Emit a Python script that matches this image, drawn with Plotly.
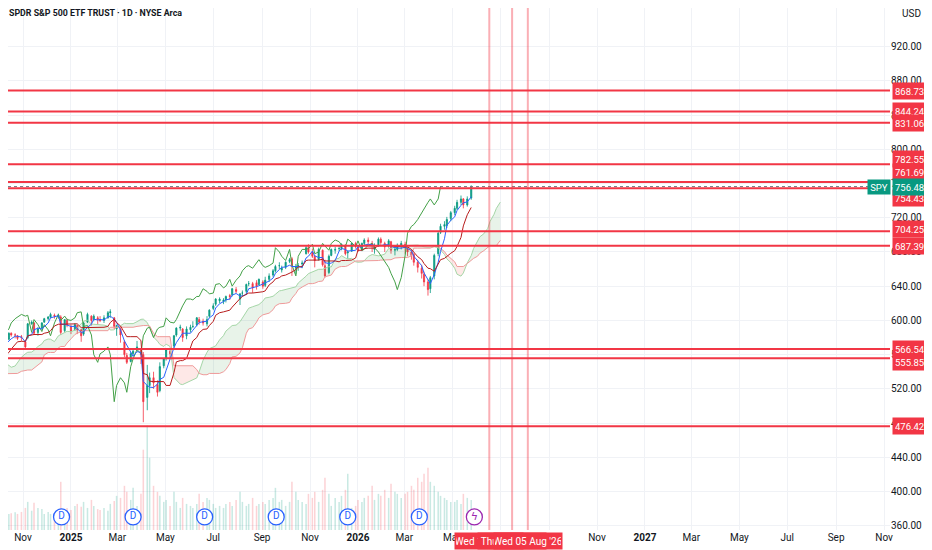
import numpy as np
import pandas as pd
import plotly.graph_objects as go

title_text = "SPDR S&P 500 ETF TRUST · 1D · NYSE Arca"

# SPY, one bar every 3 sessions, 13 Jun 2024 -> 25 May 2026
opens = [
    537, 543, 548, 545,                          # Jun 24
    544, 547, 554, 556, 562, 553, 553, 540,      # Jul 24
    552, 520, 519, 535, 553, 559, 562,           # Aug 24
    559, 563, 550, 549, 563, 565, 571,           # Sep 24
    573, 568, 572, 578, 585, 583, 582, 581,      # Oct 24
    575, 580, 596, 597, 586, 591, 598,           # Nov 24
    602, 604, 606, 605, 604, 588, 600,           # Dec 24
    593, 589, 594, 589, 584, 598, 605, 601,      # Jan 25
    603, 601, 600, 603, 609, 603, 590,           # Feb 25
    590, 575, 559, 552, 561, 566, 565,           # Mar 25
    560, 510, 524, 533, 525, 518, 547,           # Apr 25
    556, 564, 570, 583, 591, 590, 582,           # May 25
    589, 593, 595, 601, 599, 596, 605,           # Jun 25
    614, 619, 623, 622, 624, 629, 630, 636,      # Jul 25
    625, 632, 634, 643, 643, 644, 642,           # Aug 25
    645, 641, 648, 653, 658, 664, 659,           # Sep 25
    662, 669, 672, 661, 663, 666, 678, 685,      # Oct 25
    680, 675, 671, 682, 664, 656, 676,           # Nov 25
    682, 684, 684, 688, 679, 681, 690,           # Dec 25
    686, 683, 690, 694, 690, 683, 687, 695,      # Jan 26
    690, 687, 692, 682, 683, 688,                # Feb 26
    689, 684, 680, 677, 668, 661, 654, 645,      # Mar 26
    637, 652, 678, 703, 710, 711, 719,           # Apr 26
    726, 731, 738, 742, 735, 743,                # May 26
]
highs = [
    544, 549, 549, 547,
    548, 555, 558, 565, 564, 557, 554, 547,
    555, 523, 535, 555, 561, 564, 563,
    566, 565, 551, 563, 566, 571, 574,
    574, 574, 578, 586, 586, 585, 583, 583,
    576, 597, 600, 598, 592, 598, 603,
    605, 609, 608, 608, 606, 601, 602,
    595, 597, 595, 590, 598, 609, 606, 607,
    605, 605, 606, 611, 613, 604, 595,
    592, 577, 562, 563, 567, 576, 567,
    563, 548, 539, 540, 530, 551, 556,
    567, 566, 583, 592, 595, 591, 593,
    595, 599, 604, 604, 602, 605, 613,
    620, 626, 627, 626, 629, 631, 638, 639,
    632, 635, 643, 646, 645, 647, 649,
    647, 651, 655, 660, 665, 668, 664,
    669, 673, 674, 666, 667, 670, 688, 689,
    684, 676, 685, 683, 671, 677, 684,
    686, 687, 690, 689, 682, 691, 692,
    688, 691, 696, 697, 693, 690, 697, 697,
    692, 695, 693, 687, 690, 693,
    692, 686, 683, 679, 671, 665, 657, 648,
    652, 678, 704, 713, 716, 721, 728,
    734, 741, 746, 743, 745, 758,
]
lows = [
    536, 542, 543, 543,
    542, 546, 552, 555, 554, 550, 537, 536,
    530, 510, 517, 533, 551, 556, 554,
    557, 548, 539, 547, 557, 564, 569,
    565, 567, 571, 577, 581, 579, 577, 576,
    567, 578, 595, 583, 582, 589, 597,
    600, 603, 602, 602, 583, 586, 592,
    584, 588, 584, 575, 582, 597, 594, 599,
    595, 598, 597, 602, 603, 590, 582,
    574, 557, 549, 551, 558, 564, 549,
    481, 495, 515, 520, 511, 516, 544,
    553, 556, 567, 581, 588, 575, 578,
    586, 591, 593, 595, 594, 593, 603,
    612, 617, 620, 619, 621, 624, 628, 632,
    618, 628, 630, 640, 632, 636, 641,
    637, 639, 645, 651, 656, 660, 656,
    660, 667, 652, 654, 658, 661, 677, 678,
    673, 662, 670, 663, 650, 654, 675,
    678, 681, 682, 676, 672, 680, 684,
    680, 681, 688, 689, 680, 678, 686, 688,
    680, 685, 678, 676, 681, 683,
    678, 675, 671, 664, 656, 649, 640, 629,
    632, 648, 675, 701, 706, 708, 716,
    723, 729, 735, 731, 733, 741,
]
closes = [
    543, 548, 544, 546,
    546, 554, 556, 560, 556, 555, 539, 543,
    532, 518, 533, 553, 559, 562, 558,
    564, 550, 548, 562, 561, 570, 572,
    568, 573, 577, 585, 583, 583, 579, 580,
    569, 596, 598, 585, 590, 597, 602,
    604, 607, 605, 606, 586, 601, 595,
    587, 595, 589, 582, 597, 607, 600, 605,
    601, 600, 603, 609, 610, 593, 594,
    583, 560, 551, 561, 564, 569, 560,
    505, 524, 533, 527, 516, 546, 555,
    566, 561, 582, 591, 592, 580, 590,
    592, 593, 603, 598, 597, 601, 612,
    617, 625, 625, 624, 628, 628, 637, 634,
    631, 632, 642, 643, 638, 640, 648,
    640, 647, 652, 658, 663, 664, 661,
    668, 671, 664, 662, 664, 667, 685, 680,
    675, 670, 683, 665, 652, 675, 683,
    683, 684, 689, 678, 680, 690, 687,
    682, 690, 694, 692, 688, 686, 695, 691,
    686, 693, 682, 683, 688, 690,
    685, 680, 676, 668, 662, 655, 645, 636,
    650, 676, 702, 710, 712, 718, 726,
    731, 738, 742, 735, 742, 756.48,
]
# volume, millions
volumes = [
    45, 50, 60, 40,
    45, 35, 40, 50, 55, 45, 70, 50,
    85, 120, 60, 55, 45, 40, 55,
    50, 60, 55, 50, 65, 40, 45,
    45, 42, 38, 40, 42, 44, 40, 45,
    55, 70, 48, 68, 55, 52, 40,
    45, 40, 42, 50, 120, 38, 55,
    50, 60, 65, 58, 70, 55, 75, 60,
    52, 50, 55, 48, 65, 72, 85,
    80, 110, 95, 75, 105, 60, 90,
    200, 260, 180, 110, 95, 85, 70,
    75, 60, 95, 70, 55, 80, 65,
    60, 55, 65, 90, 70, 80, 75,
    65, 55, 60, 55, 65, 70, 60, 75,
    95, 70, 60, 65, 80, 60, 65,
    70, 65, 75, 80, 105, 70, 75,
    60, 70, 120, 95, 75, 70, 65, 90,
    80, 95, 70, 100, 130, 90, 60,
    80, 70, 85, 100, 140, 55, 60,
    75, 70, 80, 85, 110, 75, 90, 85,
    100, 80, 115, 95, 90, 80,
    90, 95, 110, 100, 130, 120, 140, 155,
    120, 110, 95, 85, 80, 75, 70,
    70, 75, 65, 90, 80, 75,
]

levels = [868.73, 844.24, 831.06, 782.55, 761.69, 754.43, 704.25, 687.39, 566.54, 555.85, 476.42]
last_price = 756.48
vline_dates = ["2026-06-17", "2026-07-16", "2026-08-05"]
vline_labels = ["Wed 17 Jun '26", "Thu 16 Jul '26", "Wed 05 Aug '26"]
dividend_dates = ["2024-12-20", "2025-03-21", "2025-06-20", "2025-09-19", "2025-12-19", "2026-03-20"]
event_dates = ["2026-05-29"]

tick_dates = ["2024-11-01", "2025-01-01", "2025-03-01", "2025-05-01", "2025-07-01", "2025-09-01",
              "2025-11-01", "2026-01-01", "2026-03-01", "2026-05-01", "2026-07-01", "2026-09-01",
              "2026-11-01", "2027-01-01", "2027-03-01", "2027-05-01", "2027-07-01", "2027-09-01",
              "2027-11-01"]
tick_text = ["Nov", "<b>2025</b>", "Mar", "May", "Jul", "Sep", "Nov", "<b>2026</b>", "Mar", "May",
             "Jul", "Sep", "Nov", "<b>2027</b>", "Mar", "May", "Jul", "Sep", "Nov"]

GREEN = "#089981"
RED = "#F23645"
FONT = "Roboto, sans-serif"

n = len(closes)
shift = 9  # 26 sessions at 3 sessions per bar
dates = pd.date_range("2024-06-13", periods=n + shift, freq="3B")
bars = dates[:n]

df = pd.DataFrame({"h": highs, "l": lows})
conv = (df.h.rolling(3).max() + df.l.rolling(3).min()) / 2
base = (df.h.rolling(9).max() + df.l.rolling(9).min()) / 2
span_a = ((conv + base) / 2).to_numpy()
span_b = ((df.h.rolling(17).max() + df.l.rolling(17).min()) / 2).to_numpy()
lead_x = dates[shift:shift + n]

fig = go.Figure()

# volume
vol_colors = ["rgba(8,153,129,0.22)" if c >= o else "rgba(242,54,69,0.22)" for o, c in zip(opens, closes)]
fig.add_trace(go.Bar(x=bars, y=volumes, marker=dict(color=vol_colors, line_width=0),
                     yaxis="y2", showlegend=False, hoverinfo="skip"))

# cloud fill, split where the spans cross
ok = ~np.isnan(span_a) & ~np.isnan(span_b)
segs = []
for i in range(n):
    if not ok[i]:
        continue
    up = span_a[i] >= span_b[i]
    if segs and segs[-1][1][-1] == i - 1:
        if segs[-1][0] == up:
            segs[-1][1].append(i)
            continue
        segs[-1][1].append(i)
    segs.append([up, [i]])
for up, idx in segs:
    fc = "rgba(67,160,71,0.12)" if up else "rgba(244,67,54,0.12)"
    fig.add_trace(go.Scatter(x=lead_x[idx], y=span_b[idx], mode="lines", line=dict(width=0),
                             showlegend=False, hoverinfo="skip"))
    fig.add_trace(go.Scatter(x=lead_x[idx], y=span_a[idx], mode="lines", line=dict(width=0),
                             fill="tonexty", fillcolor=fc, showlegend=False, hoverinfo="skip"))
fig.add_trace(go.Scatter(x=lead_x, y=span_a, mode="lines", line=dict(color="#A5D6A7", width=1), showlegend=False))
fig.add_trace(go.Scatter(x=lead_x, y=span_b, mode="lines", line=dict(color="#EF9A9A", width=1), showlegend=False))

# lagging span
fig.add_trace(go.Scatter(x=bars[:n - shift], y=closes[shift:], mode="lines",
                         line=dict(color="#43A047", width=1), showlegend=False))

fig.add_trace(go.Candlestick(
    x=bars, open=opens, high=highs, low=lows, close=closes,
    increasing=dict(line=dict(color=GREEN, width=0.8), fillcolor=GREEN),
    decreasing=dict(line=dict(color=RED, width=0.8), fillcolor=RED),
    whiskerwidth=0, showlegend=False,
))
fig.add_trace(go.Scatter(x=bars, y=conv, mode="lines", line=dict(color="#2962FF", width=1), showlegend=False))
fig.add_trace(go.Scatter(x=bars, y=base, mode="lines", line=dict(color="#B71C1C", width=1), showlegend=False))

# dividends and event markers
fig.add_trace(go.Scatter(
    x=dividend_dates, y=[0.025] * len(dividend_dates), yaxis="y3", mode="markers+text",
    marker=dict(symbol="circle", size=16, color="white", line=dict(color="#2962FF", width=1.3)),
    text=["D"] * len(dividend_dates), textposition="middle center",
    textfont=dict(color="#2962FF", size=10, family=FONT), showlegend=False,
))
fig.add_trace(go.Scatter(
    x=event_dates, y=[0.025], yaxis="y3", mode="markers+text",
    marker=dict(symbol="circle", size=16, color="white", line=dict(color="#9C27B0", width=1.3)),
    text=["ϟ"], textposition="middle center",
    textfont=dict(color="#9C27B0", size=11, family="DejaVu Sans"), showlegend=False,
))

shapes = []
for lv in levels:
    shapes.append(dict(type="line", xref="paper", x0=0, x1=1, yref="y", y0=lv, y1=lv,
                       line=dict(color=RED, width=2)))
shapes.append(dict(type="line", xref="paper", x0=0, x1=1, yref="y", y0=last_price, y1=last_price,
                   line=dict(color="#787B86", width=1, dash="dot")))
for d in vline_dates:
    shapes.append(dict(type="line", xref="x", x0=d, x1=d, yref="paper", y0=0, y1=1,
                       line=dict(color="rgba(242,54,69,0.4)", width=2)))

label_shift = [0, 0, 0, 5, 10, -10, 2, 0, 0, -4, 0]
annotations = [
    dict(text=title_text, xref="paper", yref="paper", x=0, y=1, xanchor="left", yanchor="middle",
         xshift=-1, yshift=-5, showarrow=False,
         font=dict(family=FONT, size=8.8, color="#131722", weight="bold")),
    dict(text="USD", xref="paper", yref="paper", x=1, y=1, xanchor="left", yanchor="middle",
         xshift=10, yshift=-5, showarrow=False, font=dict(family=FONT, size=10, color="#131722")),
]
for lv, ys in zip(levels, label_shift):
    annotations.append(dict(text=f"{lv:.2f}", xref="paper", yref="y", x=1, y=lv, xanchor="left",
                            yanchor="middle", xshift=2, yshift=ys, showarrow=False, height=12,
                            bgcolor=RED, borderpad=2, font=dict(family=FONT, size=9.5, color="white")))
annotations.append(dict(text=f"{last_price:.2f}", xref="paper", yref="y", x=1, y=last_price, xanchor="left",
                        yanchor="middle", xshift=2, showarrow=False, height=12,
                        bgcolor=GREEN, borderpad=2, font=dict(family=FONT, size=9.5, color="white")))
annotations.append(dict(text="SPY", xref="paper", yref="y", x=1, y=last_price, xanchor="right",
                        yanchor="middle", xshift=1, showarrow=False, width=20, height=12,
                        bgcolor=GREEN, borderpad=1, font=dict(family=FONT, size=9.5, color="white")))
for d, t in zip(vline_dates, vline_labels):
    annotations.append(dict(text=t, xref="x", yref="paper", x=d, y=0, xanchor="center", yanchor="top",
                            yshift=-2, showarrow=False, width=66, height=14, bgcolor=RED, borderpad=1,
                            font=dict(family=FONT, size=10, color="white")))

# the page adds an 8px body margin, so the figure is 8px smaller each way
fig.update_layout(
    width=924, height=542,
    margin=dict(l=0, r=42, t=0, b=20),
    paper_bgcolor="white", plot_bgcolor="white",
    font=dict(family=FONT, size=10, color="#131722"),
    bargap=0.35,
    shapes=shapes, annotations=annotations,
    xaxis=dict(type="date", range=["2024-10-12 22:00", "2027-11-08 14:00"],
               tickvals=tick_dates, ticktext=tick_text, showgrid=True, gridcolor="#F0F2F6",
               zeroline=False, showline=False, ticks="", rangeslider=dict(visible=False),
               tickfont=dict(size=10, color="#131722")),
    yaxis=dict(range=[355.0, 965.2], side="right", tickvals=list(range(360, 921, 40)),
               tickformat=".2f", showgrid=True, gridcolor="#F0F2F6", zeroline=False,
               showline=False, ticks="", tickfont=dict(size=10, color="#131722")),
    yaxis2=dict(overlaying="y", range=[0, 1300], visible=False),
    yaxis3=dict(overlaying="y", range=[0, 1], visible=False),
)

fig.write_html("out.html")
